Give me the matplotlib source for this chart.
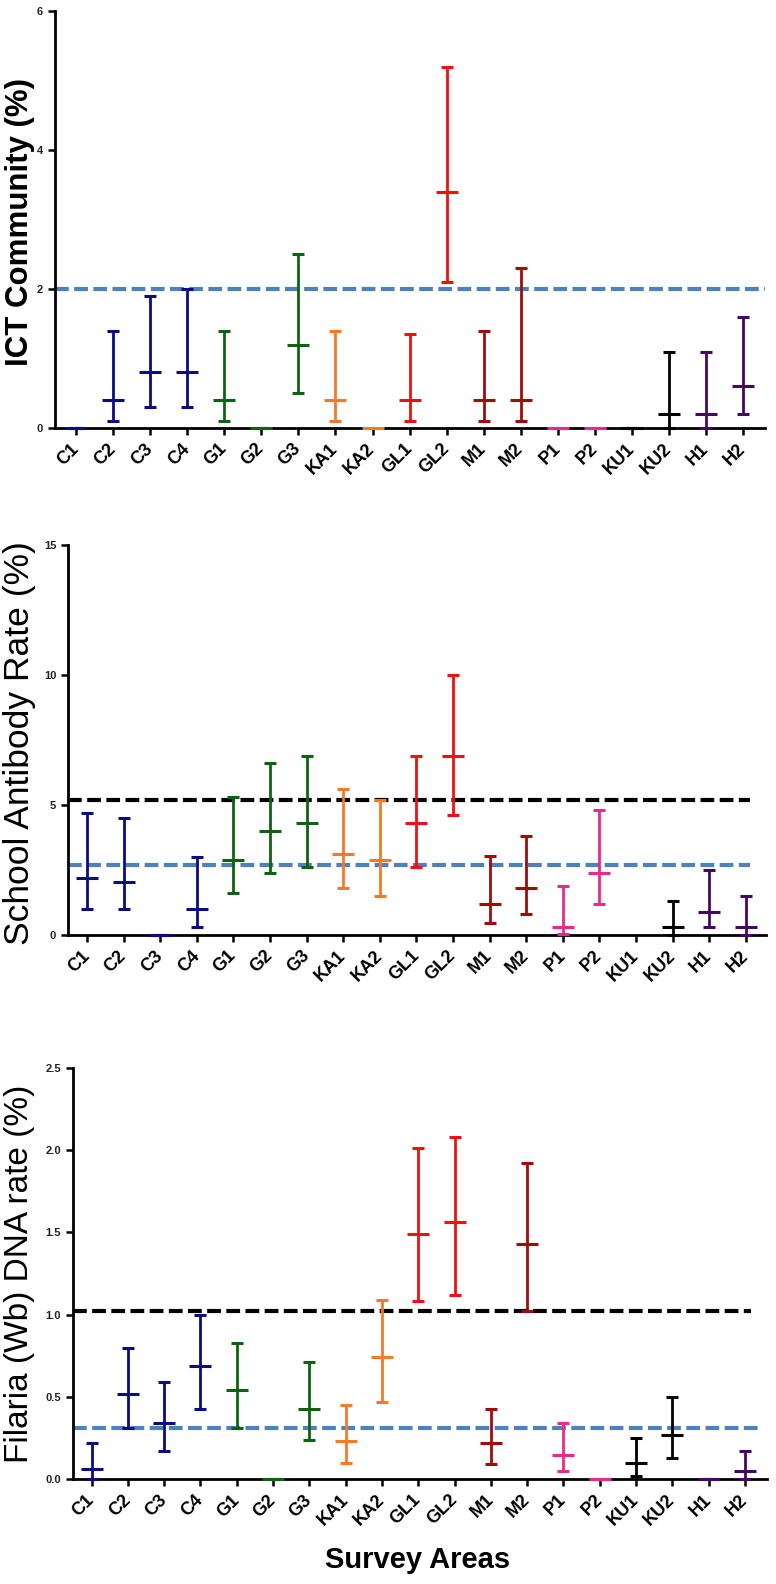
import matplotlib
matplotlib.use("Agg")
import matplotlib.pyplot as plt
import numpy as np

plt.rcParams['font.family'] = ['Liberation Sans', 'DejaVu Sans']

categories = ["C1", "C2", "C3", "C4", "G1", "G2", "G3", "KA1", "KA2", "GL1",
              "GL2", "M1", "M2", "P1", "P2", "KU1", "KU2", "H1", "H2"]
cat_colors = ["#0b0b82", "#0b0b82", "#0b0b82", "#0b0b82",
              "#0e6312", "#0e6312", "#0e6312",
              "#f47a25", "#f47a25",
              "#ee1111", "#ee1111",
              "#a00c0c", "#a00c0c",
              "#ea2a8a", "#ea2a8a",
              "#000000", "#000000",
              "#46085f", "#46085f"]

# Panel 1: ICT Community (%)
ict_mean = [0, 0.4, 0.8, 0.8, 0.4, 0, 1.2, 0.4, 0, 0.4, 3.4, 0.4, 0.4, 0, 0, 0, 0.2, 0.2, 0.6]
ict_low = [0, 0.1, 0.3, 0.3, 0.1, 0, 0.5, 0.1, 0, 0.1, 2.1, 0.1, 0.1, 0, 0, 0, 0.0, 0.0, 0.2]
ict_high = [0, 1.4, 1.9, 2.0, 1.4, 0, 2.5, 1.4, 0, 1.35, 5.2, 1.4, 2.3, 0, 0, 0, 1.1, 1.1, 1.6]
ict_refs = [2.0]

# Panel 2: School Antibody Rate (%)
sab_mean = [2.2, 2.05, 0, 1.0, 2.9, 4.0, 4.3, 3.1, 2.9, 4.3, 6.9, 1.2, 1.8, 0.3, 2.4, np.nan, 0.3, 0.9, 0.3]
sab_low = [1.0, 1.0, 0, 0.3, 1.6, 2.4, 2.6, 1.8, 1.5, 2.6, 4.6, 0.45, 0.8, 0.05, 1.2, np.nan, 0.0, 0.3, 0.0]
sab_high = [4.7, 4.5, 0, 3.0, 5.3, 6.6, 6.9, 5.6, 5.2, 6.9, 10.0, 3.05, 3.8, 1.9, 4.8, np.nan, 1.3, 2.5, 1.5]
sab_refs = [5.2, 2.7]

# Panel 3: Filaria (Wb) DNA rate (%)
dna_mean = [0.06, 0.52, 0.34, 0.69, 0.54, 0, 0.43, 0.23, 0.74, 1.49, 1.56, 0.22, 1.43, 0.15, 0, 0.1, 0.27, 0, 0.05]
dna_low = [0.0, 0.31, 0.17, 0.43, 0.31, 0, 0.24, 0.1, 0.47, 1.08, 1.12, 0.09, 1.02, 0.05, 0, 0.02, 0.13, 0, 0.0]
dna_high = [0.22, 0.8, 0.59, 1.0, 0.83, 0, 0.71, 0.45, 1.09, 2.01, 2.08, 0.43, 1.92, 0.34, 0, 0.25, 0.5, 0, 0.17]
dna_refs = [1.02, 0.31]

ylabels = ["ICT Community (%)", "School Antibody Rate (%)", "Filaria (Wb) DNA rate (%)"]
xlabel = "Survey Areas"

W, H = 776, 1584
fig = plt.figure(figsize=(W / 100, H / 100), dpi=100)

def px_axes(left, right, top, bottom):
    return fig.add_axes([left / W, 1 - bottom / H, (right - left) / W, (bottom - top) / H])

panels = [
    dict(box=(55, 765, 11, 428), xlim=(-0.567, 18.59), ylim=(0, 6), yticks=[0, 2, 4, 6],
         fmt="{:g}", mean=ict_mean, low=ict_low, high=ict_high, refs=ict_refs,
         ref_colors=["#4f81bd"], ref_xmax=[18.59], label_y=222, weight='bold', lsize=22.5),
    dict(box=(68, 766, 545, 935), xlim=(-0.52, 18.55), ylim=(0, 15), yticks=[0, 5, 10, 15],
         fmt="{:g}", mean=sab_mean, low=sab_low, high=sab_high, refs=sab_refs,
         ref_colors=["#000000", "#4f81bd"], ref_xmax=[18.1, 18.1], label_y=743, weight='normal',
         lsize=25.5),
    dict(box=(72.7, 766.7, 1067.7, 1479.3), xlim=(-0.52, 18.6), ylim=(0, 2.5),
         yticks=[0, 0.5, 1.0, 1.5, 2.0, 2.5], fmt="{:.1f}",
         mean=dna_mean, low=dna_low, high=dna_high, refs=dna_refs,
         ref_colors=["#000000", "#4f81bd"], ref_xmax=[18.18, 18.35], label_y=1274, weight='normal',
         lsize=24),
]

for k, p in enumerate(panels):
    ax = px_axes(*p["box"])
    ax.set_xlim(*p["xlim"])
    ax.set_ylim(*p["ylim"])
    for side in ("top", "right"):
        ax.spines[side].set_visible(False)
    for side in ("left", "bottom"):
        ax.spines[side].set_linewidth(2.0)
    ax.tick_params(axis="both", length=5, width=1.8, direction="out")
    ax.set_yticks(p["yticks"])
    ax.set_yticklabels([p["fmt"].format(v) for v in p["yticks"]], fontsize=8, fontweight="bold",
                       color="#222222")
    x = np.arange(len(categories))
    ax.set_xticks(x)
    ax.set_xticklabels(categories, rotation=45, ha="right", va="center",
                       rotation_mode="anchor", fontsize=13, fontweight="bold")
    ax.tick_params(axis="x", pad=8)

    # reference lines
    for r, c, xm in zip(p["refs"], p["ref_colors"], p["ref_xmax"]):
        ax.plot([p["xlim"][0], xm], [r, r], color=c, lw=3.0, dashes=(3.3, 1.3),
                zorder=2, solid_capstyle="butt", dash_capstyle="butt")

    for i, cat in enumerate(categories):
        m, lo, hi = p["mean"][i], p["low"][i], p["high"][i]
        if np.isnan(m):
            continue
        ax.errorbar([i], [m], yerr=[[m - lo], [hi - m]], fmt="_", color=cat_colors[i],
                    ecolor=cat_colors[i], markersize=16.5, markeredgewidth=2.2,
                    elinewidth=2.0, capsize=4, capthick=2.2, clip_on=False, zorder=4)

    fig.text(20 / W, 1 - p["label_y"] / H, ylabels[k], rotation=90, ha="center", va="center",
             fontsize=p["lsize"], fontweight=p["weight"])

fig.text(417.5 / W, 1 - 1560 / H, xlabel, ha="center", va="center", fontsize=21,
         fontweight="bold")

fig.savefig("out.png", dpi=100)
